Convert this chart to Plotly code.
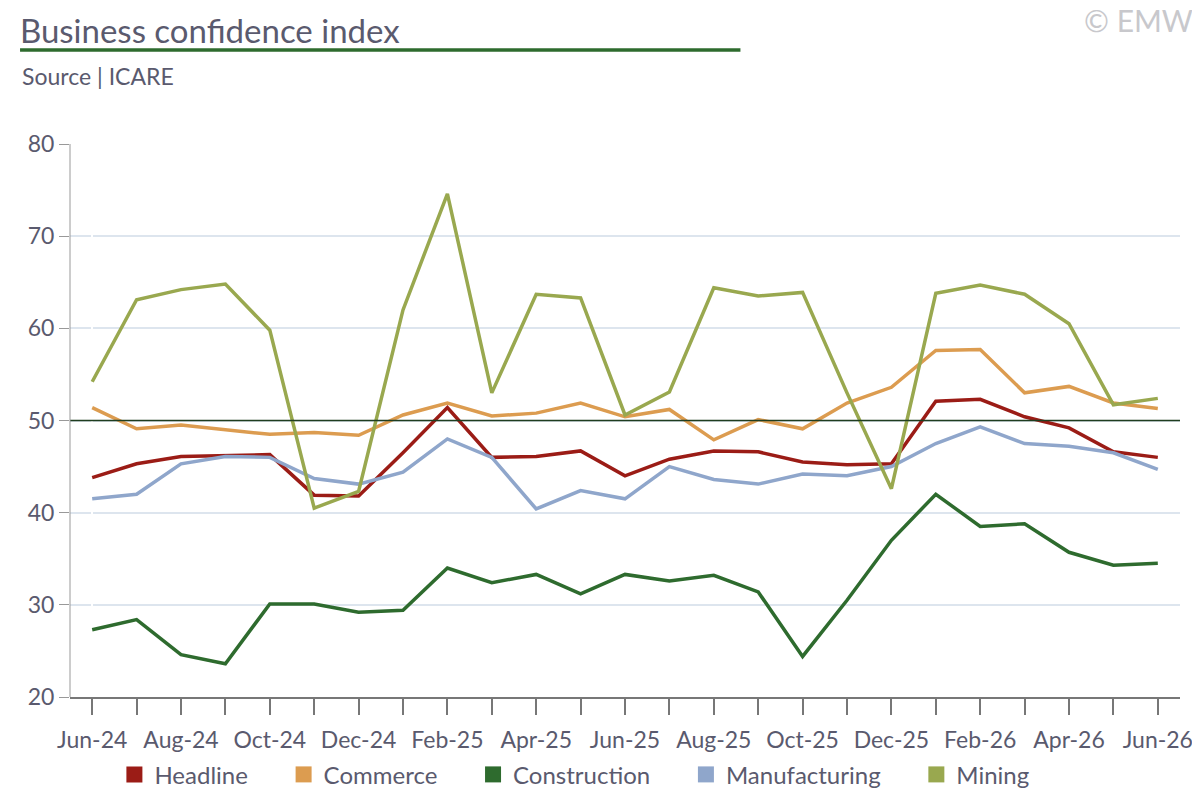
import plotly.graph_objects as go

months = ["Jun-24","Jul-24","Aug-24","Sep-24","Oct-24","Nov-24","Dec-24","Jan-25","Feb-25","Mar-25","Apr-25","May-25","Jun-25","Jul-25","Aug-25","Sep-25","Oct-25","Nov-25","Dec-25","Jan-26","Feb-26","Mar-26","Apr-26","May-26","Jun-26"]
headline = [43.8,45.3,46.1,46.2,46.3,41.9,41.8,46.5,51.4,46.0,46.1,46.7,44.0,45.8,46.7,46.6,45.5,45.2,45.3,52.1,52.3,50.4,49.2,46.6,46.0]
commerce = [51.4,49.1,49.5,49.0,48.5,48.7,48.4,50.6,51.9,50.5,50.8,51.9,50.4,51.2,47.9,50.1,49.1,51.9,53.6,57.6,57.7,53.0,53.7,51.9,51.3]
construction = [27.3,28.4,24.6,23.6,30.1,30.1,29.2,29.4,34.0,32.4,33.3,31.2,33.3,32.6,33.2,31.4,24.4,30.5,37.0,42.0,38.5,38.8,35.7,34.3,34.5]
manufacturing = [41.5,42.0,45.3,46.1,46.0,43.7,43.1,44.4,48.0,46.0,40.4,42.4,41.5,45.0,43.6,43.1,44.2,44.0,45.0,47.5,49.3,47.5,47.2,46.5,44.7]
mining = [54.2,63.1,64.2,64.8,59.8,40.5,42.3,62.0,74.6,53.0,63.7,63.3,50.6,53.1,64.4,63.5,63.9,53.0,42.6,63.8,64.7,63.7,60.5,51.7,52.4]

series = [("Headline", headline, "#9b1c16"), ("Commerce", commerce, "#dc9c50"),
          ("Construction", construction, "#2e6b2e"), ("Manufacturing", manufacturing, "#8fa6cb"),
          ("Mining", mining, "#99a84f")]
x = list(range(len(months)))
txt = "#5a5a6e"
fig = go.Figure()
for name, vals, col in series:
    fig.add_trace(go.Scatter(x=x, y=vals, name=name, mode="lines", line=dict(color=col, width=3.5), showlegend=False))
for name, vals, col in series:
    fig.add_trace(go.Scatter(x=[None], y=[None], name=name + "     ", mode="markers",
                             marker=dict(symbol="square", size=28, color=col)))
fig.add_shape(type="line", xref="paper", x0=0, x1=1, yref="y", y0=50, y1=50, line=dict(color="#1f3d1f", width=1.5))
fig.add_shape(type="line", xref="paper", yref="paper", x0=-0.045, x1=0.604, y0=1.170, y1=1.170, line=dict(color="#2e6b2e", width=3.5))
fig.update_layout(
    width=1192, height=784, plot_bgcolor="white", paper_bgcolor="white",
    margin=dict(l=62, r=20, t=136, b=95, autoexpand=False),
    font=dict(family="Lato", color=txt, size=24),
    title=dict(text="Business confidence index", x=0.010, xanchor="left", y=0.985, yanchor="top", font=dict(size=33, color=txt)),
    xaxis=dict(range=[-0.5, 24.5], tickmode="array", tickvals=x[::2], ticktext=months[::2], automargin=False,
               showgrid=False, showline=True, linecolor="#777", linewidth=1.5, ticks="", ticklabelstandoff=22,
               minor=dict(tickvals=x, ticks="outside", ticklen=16, tickcolor="#777", tickwidth=1.5),
               tickfont=dict(size=23, color=txt)),
    yaxis=dict(range=[20, 80], dtick=10, showgrid=True, gridcolor="#dde5ee", gridwidth=1.5, zeroline=False, automargin=False,
               showline=False, ticks="outside", ticklen=10, tickcolor="#999", tickfont=dict(size=23, color=txt)),
    legend=dict(orientation="h", x=0.04, xanchor="left", y=-0.10, yanchor="top", font=dict(size=24, color=txt)),
)
fig.add_annotation(text="Source | ICARE", xref="paper", yref="paper", x=-0.045, y=1.094, xanchor="left", yanchor="bottom", showarrow=False, font=dict(size=23, color=txt))
fig.add_annotation(text="© EMW", xref="paper", yref="paper", x=1.0135, y=1.224, xanchor="right", yanchor="middle", showarrow=False, font=dict(size=30, color="#c8c8cc"))
fig.add_shape(type="line", xref="paper", yref="paper", x0=0, x1=0, y0=0, y1=1, line=dict(color="#999", width=1))
fig.write_html("out.html")
